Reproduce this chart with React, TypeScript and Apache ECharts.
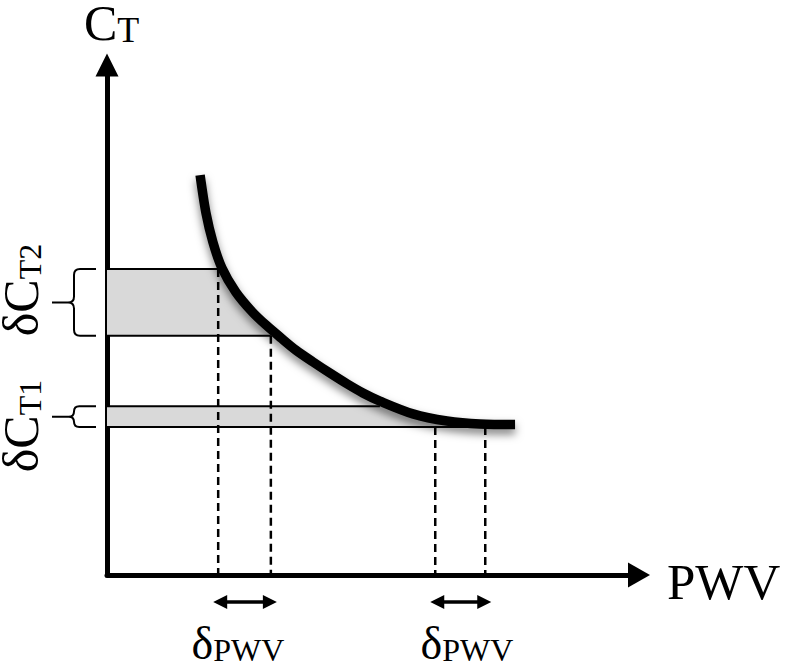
import React, { useEffect, useRef } from "react";
import * as echarts from "echarts";

// ---- data (axis units: both axes run 0..10, schematic) ----
const X_MIN = 0;
const X_MAX = 10;
const Y_MIN = 0;
const Y_MAX = 10;

// the C_T(PWV) curve
const curveX = [1.75, 1.86, 1.99, 2.16, 2.42, 2.73, 2.99, 3.27, 3.55, 3.87, 4.19, 4.51, 4.81, 5.13, 5.75, 6.39, 7.01, 7.67];
const curveY = [7.84, 7.1, 6.53, 6.02, 5.55, 5.16, 4.9, 4.65, 4.41, 4.18, 3.96, 3.75, 3.57, 3.41, 3.16, 3.02, 2.96, 2.95];

// shaded bands (δC_T2 upper, δC_T1 lower)
const bandLow = [4.69, 2.9];
const bandHigh = [6.0, 3.31];
const bandTopEnd = [2.09, 5.13];
const bandBottomEnd = [3.08, 7.11];
const bandLabelMain = ["δC", "δC"];
const bandLabelSub = ["T2", "T1"];

// dashed guide lines
const guideX = [2.09, 3.08, 6.17, 7.11];
const guideTop = [6.0, 4.69, 2.9, 2.9];

// δPWV intervals (pairs of guide indices)
const deltaStart = [0, 2];
const deltaEnd = [1, 3];
const deltaLabelMain = "δ";
const deltaLabelSub = "PWV";

// axis names
const yNameMain = "C";
const yNameSub = "T";
const xName = "PWV";

export default function App() {
  const ref = useRef<HTMLDivElement>(null);

  useEffect(() => {
    if (!ref.current) return;
    const chart = echarts.init(ref.current, null, { renderer: "svg" });
    const font = '"Liberation Serif", "Times New Roman", serif';

    const curveData = curveX.map((x, i) => [x, curveY[i]]);
    const bandData = bandLow.map((_, i) => [bandTopEnd[i], bandHigh[i]]);
    const guideData = guideX.map((x, i) => [x, guideTop[i]]);
    const deltaData = deltaStart.map((s, i) => [guideX[s], guideX[deltaEnd[i]]]);

    const rich = (mainSize: number, mainLH: number, subSize: number, subLH: number) => ({
      m: { fontSize: mainSize, lineHeight: mainLH, fontFamily: font, fill: "#000", verticalAlign: "bottom" },
      s: { fontSize: subSize, lineHeight: subLH, fontFamily: font, fill: "#000", verticalAlign: "bottom" },
    });

    chart.setOption({
      animation: false,
      backgroundColor: "#fff",
      grid: { left: 107, top: 65, width: 532, height: 510, containLabel: false },
      xAxis: {
        type: "value",
        min: X_MIN,
        max: X_MAX,
        axisLine: {
          show: true,
          onZero: false,
          symbol: ["none", "triangle"],
          symbolSize: [25, 22],
          lineStyle: { color: "#000", width: 5 },
        },
        axisTick: { show: false },
        axisLabel: { show: false },
        splitLine: { show: false },
      },
      yAxis: {
        type: "value",
        min: Y_MIN,
        max: Y_MAX,
        axisLine: {
          show: true,
          onZero: false,
          symbol: ["none", "triangle"],
          symbolSize: [23, 23],
          lineStyle: { color: "#000", width: 5 },
        },
        axisTick: { show: false },
        axisLabel: { show: false },
        splitLine: { show: false },
      },
      series: [
        {
          type: "custom",
          name: "bands",
          data: bandData,
          z: 1,
          renderItem: (params: any, api: any) => {
            const i = params.dataIndex;
            const lo = bandLow[i];
            const hi = bandHigh[i];
            const te = bandTopEnd[i];
            const be = bandBottomEnd[i];
            const pts: number[][] = [[0, hi], [te, hi]];
            curveX.forEach((x, k) => {
              const y = curveY[k];
              if (y < hi && y > lo && x > te && x < be) pts.push([x, y]);
            });
            pts.push([be, lo], [0, lo]);
            const poly = pts.map((p) => api.coord(p));
            const a = api.coord([0, hi]);
            const b = api.coord([te, hi]);
            const c = api.coord([0, lo]);
            const d = api.coord([be, lo]);
            return {
              type: "group",
              children: [
                { type: "polygon", shape: { points: poly }, style: { fill: "#d9d9d9", stroke: null } },
                { type: "line", shape: { x1: a[0], y1: a[1], x2: b[0], y2: b[1] }, style: { stroke: "#000", lineWidth: 2 } },
                { type: "line", shape: { x1: c[0], y1: c[1], x2: d[0], y2: d[1] }, style: { stroke: "#000", lineWidth: 2 } },
              ],
            };
          },
        },
        {
          type: "custom",
          name: "guides",
          data: guideData,
          z: 2,
          renderItem: (params: any, api: any) => {
            const x = api.value(0);
            const top = api.value(1);
            const p1 = api.coord([x, top]);
            const p2 = api.coord([x, 0]);
            return {
              type: "line",
              shape: { x1: p1[0], y1: p1[1], x2: p2[0], y2: p2[1] },
              style: { stroke: "#000", lineWidth: 2.5, lineDash: [8, 5] },
            };
          },
        },
        {
          type: "custom",
          name: "braces",
          data: bandData,
          clip: false,
          z: 2,
          renderItem: (params: any, api: any) => {
            const i = params.dataIndex;
            const t = api.coord([0, bandHigh[i]])[1];
            const b = api.coord([0, bandLow[i]])[1];
            const x0 = api.coord([0, 0])[0];
            const xr = x0 - 11;
            const xs = x0 - 33;
            const xt = x0 - 55;
            const m = (t + b) / 2;
            const r = Math.min(6, (b - t) / 4);
            const dPath =
              `M${xr} ${t} L${xs + r} ${t} Q${xs} ${t} ${xs} ${t + r} L${xs} ${m - r} ` +
              `Q${xs} ${m} ${xs - r} ${m} L${xt} ${m} M${xs - r} ${m} Q${xs} ${m} ${xs} ${m + r} ` +
              `L${xs} ${b - r} Q${xs} ${b} ${xs + r} ${b} L${xr} ${b}`;
            return {
              type: "path",
              shape: { pathData: dPath },
              style: { fill: "none", stroke: "#000", lineWidth: 2 },
            };
          },
        },
        {
          type: "custom",
          name: "deltaPWV",
          data: deltaData,
          clip: false,
          z: 2,
          renderItem: (params: any, api: any) => {
            const p1 = api.coord([api.value(0), 0]);
            const p2 = api.coord([api.value(1), 0]);
            const y = p1[1] + 27;
            const x1 = p1[0] - 5;
            const x2 = p2[0] + 6;
            const hl = 14;
            const hw = 7;
            return {
              type: "group",
              children: [
                { type: "line", shape: { x1: x1 + hl - 2, y1: y, x2: x2 - hl + 2, y2: y }, style: { stroke: "#000", lineWidth: 3.5 } },
                { type: "polygon", shape: { points: [[x1, y], [x1 + hl, y - hw], [x1 + hl, y + hw]] }, style: { fill: "#000" } },
                { type: "polygon", shape: { points: [[x2, y], [x2 - hl, y - hw], [x2 - hl, y + hw]] }, style: { fill: "#000" } },
              ],
            };
          },
        },
        {
          type: "line",
          name: "curve",
          data: curveData,
          smooth: 0.3,
          symbol: "none",
          z: 5,
          lineStyle: {
            color: "#000",
            width: 9.5,
            cap: "butt",
            shadowColor: "rgba(0,0,0,0.5)",
            shadowBlur: 9,
            shadowOffsetX: 0,
            shadowOffsetY: 5,
          },
        },
      ],
      graphic: [
        {
          type: "text",
          x: 84,
          y: 48,
          style: { text: `{m|${yNameMain}}{s|${yNameSub}}`, verticalAlign: "bottom", rich: rich(50, 44, 36, 30) },
        },
        {
          type: "text",
          x: 667,
          y: 607,
          style: { text: xName, fontSize: 51, fontFamily: font, fill: "#000", verticalAlign: "bottom" },
        },
        ...deltaData.map((_, i) => ({
          type: "text",
          x: [238, 467][i],
          y: 666,
          style: {
            text: `{m|${deltaLabelMain}}{s|${deltaLabelSub}}`,
            align: "center",
            verticalAlign: "bottom",
            rich: rich(46, 46, 32, 32),
          },
        })),
        ...bandLow.map((_, i) => ({
          type: "text",
          x: 25,
          y: [290, 426][i],
          rotation: Math.PI / 2,
          style: {
            text: `{m|${bandLabelMain[i]}}{s|${bandLabelSub[i]}}`,
            align: "center",
            verticalAlign: "middle",
            rich: rich(50, 42, 32, 26),
          },
        })),
      ],
    });

    return () => chart.dispose();
  }, []);

  return (
    <div
      ref={ref}
      style={{ position: "fixed", left: 0, top: 0, width: 786, height: 667, background: "#fff" }}
    />
  );
}
